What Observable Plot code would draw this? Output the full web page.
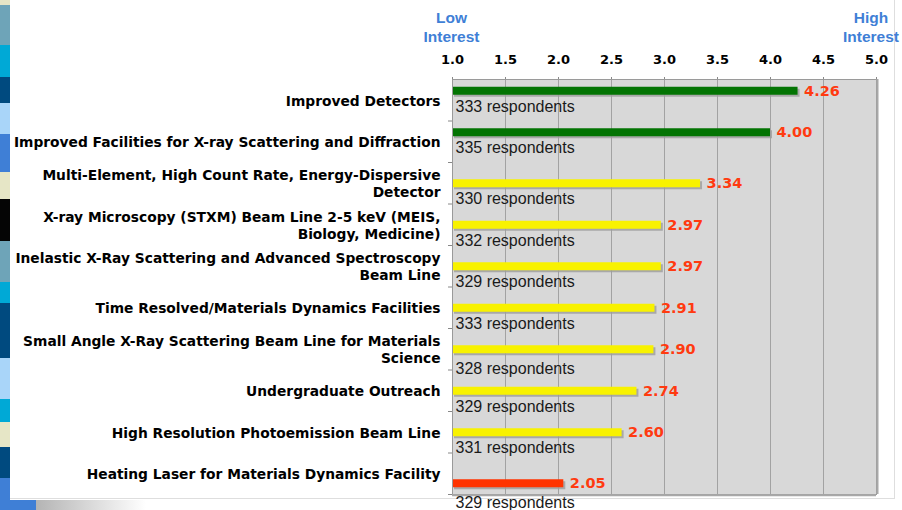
<!DOCTYPE html>
<html>
<head>
<meta charset="utf-8">
<script src="https://cdn.jsdelivr.net/npm/d3@7"></script>
<script src="https://cdn.jsdelivr.net/npm/@observablehq/plot@0.6"></script>
<style>
  html, body { margin: 0; padding: 0; background: #fff; }
  #wrap { position: relative; width: 902px; height: 510px; overflow: hidden; }
  #panel { position: absolute; left: 10px; top: 0; width: 885px; height: 499px;
           border-right: 1px solid #dedede; border-bottom: 1px solid #dedede; box-sizing: border-box; }
  #shadow { position: absolute; left: 36px; top: 500px; width: 110px; height: 10px;
            background: linear-gradient(to right, #b4b4b4, #ffffff); }
  #stripe { position: absolute; left: 0; top: 0; width: 10px; height: 510px; z-index: 3; }
  #stripe div { width: 10px; }
  #foot { position: absolute; left: 10px; top: 500px; width: 26px; height: 10px; background: #3f7fd6; z-index: 3; }
  #chart { position: absolute; left: 0; top: 0; z-index: 2; }
</style>
</head>
<body>
<div id="wrap">
  <div id="panel"></div>
  <div id="shadow"></div>
  <div id="stripe"></div>
  <div id="foot"></div>
  <div id="chart"></div>
</div>
<script>
// ---- data ----
const categories = [
  "Improved Detectors",
  "Improved Facilities for X-ray Scattering and Diffraction",
  "Multi-Element, High Count Rate, Energy-Dispersive\nDetector",
  "X-ray Microscopy (STXM) Beam Line 2-5 keV (MEIS,\nBiology, Medicine)",
  "Inelastic X-Ray Scattering and Advanced Spectroscopy\nBeam Line",
  "Time Resolved/Materials Dynamics Facilities",
  "Small Angle X-Ray Scattering Beam Line for Materials\nScience",
  "Undergraduate Outreach",
  "High Resolution Photoemission Beam Line",
  "Heating Laser for Materials Dynamics Facility"
];
const scores = [4.26, 4.00, 3.34, 2.97, 2.97, 2.91, 2.90, 2.74, 2.60, 2.05];
const respondents = [333, 335, 330, 332, 329, 333, 328, 329, 331, 329];
const xTicks = [1.0, 1.5, 2.0, 2.5, 3.0, 3.5, 4.0, 4.5, 5.0];
const scaleEndLabels = ["Low\nInterest", "High\nInterest"];
const scaleEndValues = [1.0, 5.0];

// decorative left stripe (slide template)
const stripeColors = ["#e6e5c6","#6ea4b8","#00a9d6","#004a7f","#a9d5f9","#3f7fd6","#e6e6c6","#050505",
                      "#6ea4b8","#00a9d6","#004a7f","#a9d5f9","#00a9d6","#e6e6c6","#004a7f","#3f7fd6"];
const stripeStops = [0,5,45,77,103,134,172,199,241,282,303,358,399,422,447,478,510];
const stripe = document.getElementById("stripe");
stripeColors.forEach((c, i) => {
  const d = document.createElement("div");
  d.style.height = (stripeStops[i + 1] - stripeStops[i]) + "px";
  d.style.background = c;
  stripe.appendChild(d);
});

// ---- chart ----
const rows = categories.map((c, i) => ({cat: c, score: scores[i], n: respondents[i], i}));
const colorOf = v => v >= 3.5 ? "#037403" : v >= 2.5 ? "#f8f200" : "#ff3300";
// bar offset within its row, and the gap from bar to respondents line (as laid out in the slide)
const shiftOf = i => i < 2 ? -9 : i === categories.length - 1 ? 10 : 0.5;
const noteGapOf = i => (i === 6 || i === categories.length - 1) ? 19.5 : 15.5;

const bandInset = 16.75;
const endLabelStyle = {frameAnchor: "top", lineAnchor: "middle", dy: -53.5, fill: "#3f7fd6",
  fontSize: 15.5, fontWeight: "bold", fontFamily: "Liberation Sans, Arial, sans-serif",
  lineHeight: 1.22, textAnchor: "middle"};

const marks = [
  Plot.frame({fill: "#d8d8d8", stroke: null}),
  Plot.ruleX(xTicks.slice(1, -1), {stroke: "#a2a2a2", strokeWidth: 1}),
  Plot.axisX({anchor: "top", ticks: xTicks, tickFormat: d3.format(".1f"), tickSize: 3,
              tickPadding: 13, fontSize: 13, fontWeight: "bold", fill: "#000", stroke: "#888", label: null}),
  Plot.axisY({tickSize: 0, tickPadding: 12, fontSize: 13.8, fontWeight: "bold", fill: "#000",
              lineHeight: 1.22, label: null}),
  Plot.axisY({tickSize: 4, tickFormat: () => "", dy: 20.75, stroke: "#888", label: null}),
  Plot.text([scaleEndLabels[0]], {x: scaleEndValues[0], dx: -1, ...endLabelStyle}),
  Plot.text([scaleEndLabels[1]], {x: scaleEndValues[1], dx: -5.5, ...endLabelStyle})
];

for (const d of rows) {
  const shift = shiftOf(d.i);
  marks.push(
    Plot.barX([d], {x1: 1, x2: "score", y: "cat", fill: "#9c9c9c", fillOpacity: 0.8,
                    insetTop: bandInset, insetBottom: bandInset, dx: 2, dy: shift + 2}),
    Plot.barX([d], {x1: 1, x2: "score", y: "cat", fill: r => colorOf(r.score),
                    insetTop: bandInset, insetBottom: bandInset, dy: shift}),
    Plot.text([d], {x: "score", y: "cat", text: r => d3.format(".2f")(r.score), textAnchor: "start",
                    dx: 6, dy: shift, fill: "#ff3a10", fontSize: 14.5, fontWeight: "bold"})
  );
}
marks.push(Plot.frame({stroke: "#9a9a9a", strokeWidth: 1}));
// darker right/bottom edge of the plot box
marks.push(Plot.ruleX([5], {stroke: "#a8a8a8", strokeWidth: 2, dx: 1}));
marks.push(Plot.ruleY([categories[categories.length - 1]], {stroke: "#a8a8a8", strokeWidth: 2, dy: 21.5, x1: 1, x2: 5}));
for (const d of rows) {
  marks.push(Plot.text([d], {x: 1, y: "cat", text: r => `${r.n} respondents`, textAnchor: "start",
                    dx: 3, dy: shiftOf(d.i) + noteGapOf(d.i), fill: "#1a1a1a", fontSize: 16,
                    fontFamily: "Liberation Sans, Arial, sans-serif"}));
}

const chart = Plot.plot({
  width: 902,
  height: 510,
  marginLeft: 452,
  marginRight: 26,
  marginTop: 79,
  marginBottom: 16,
  style: "background: transparent; overflow: visible; font-family: 'DejaVu Sans', Verdana, sans-serif;",
  x: {domain: [1, 5]},
  y: {type: "band", domain: categories, padding: 0, round: false},
  marks
});
document.getElementById("chart").appendChild(chart);
</script>
</body>
</html>
